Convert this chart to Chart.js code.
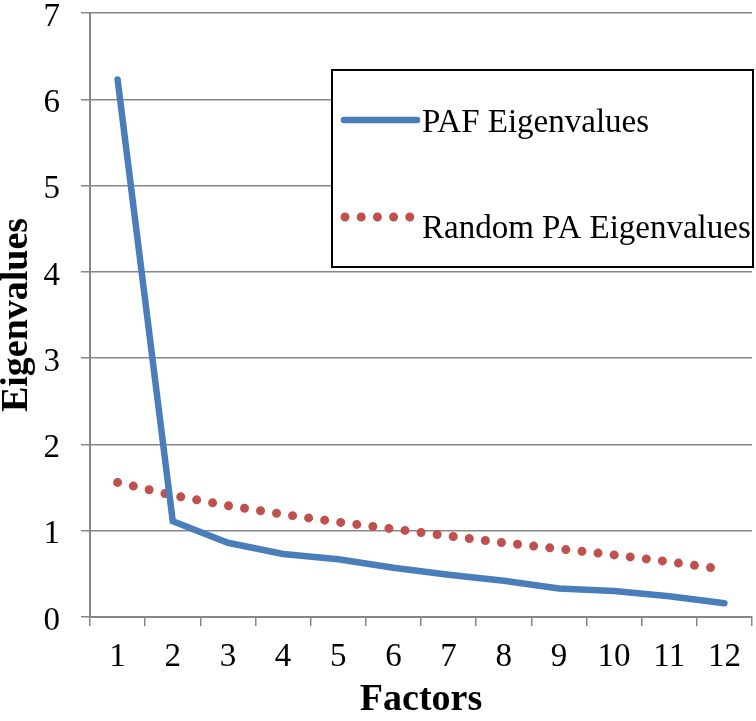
<!DOCTYPE html>
<html>
<head>
<meta charset="utf-8">
<script src="https://cdn.jsdelivr.net/npm/chart.js@4/dist/chart.umd.min.js"></script>
<style>
  html, body { margin: 0; padding: 0; background: #ffffff; }
  #wrap { width: 756px; height: 721px; position: relative; }
</style>
</head>
<body>
<div id="wrap"><canvas id="c" width="756" height="721"></canvas></div>
<script>
const categories = ['1','2','3','4','5','6','7','8','9','10','11','12'];
const pafEigenvalues = [6.23, 1.11, 0.86, 0.73, 0.67, 0.57, 0.49, 0.42, 0.33, 0.30, 0.24, 0.16];
const randomPaEigenvalues = [1.56, 1.41, 1.29, 1.19, 1.10, 1.02, 0.94, 0.86, 0.79, 0.72, 0.64, 0.55];
const seriesNames = ['PAF Eigenvalues', 'Random PA Eigenvalues'];
const yTickValues = [0, 1, 2, 3, 4, 5, 6, 7];
const xTitle = 'Factors';
const yTitle = 'Eigenvalues';

const BLUE = '#4a7ebb';
const RED = '#c0504d';
const GRID = '#878787';
const SERIF = '"Liberation Serif", "Times New Roman", serif';

const legendPlugin = {
  id: 'boxLegend',
  afterDraw(chart) {
    const ctx = chart.ctx;
    const box = { x: 332, y: 70, w: 421, h: 197 };
    ctx.save();
    ctx.fillStyle = '#ffffff';
    ctx.fillRect(box.x, box.y, box.w, box.h);
    ctx.lineWidth = 2;
    ctx.strokeStyle = '#000000';
    ctx.strokeRect(box.x, box.y, box.w, box.h);

    const ds = chart.data.datasets;
    ctx.beginPath();
    ctx.lineCap = 'round';
    ctx.lineWidth = ds[0].borderWidth;
    ctx.strokeStyle = ds[0].borderColor;
    ctx.setLineDash([]);
    ctx.moveTo(box.x + 12, box.y + 50);
    ctx.lineTo(box.x + 85, box.y + 50);
    ctx.stroke();

    ctx.beginPath();
    ctx.lineWidth = ds[1].borderWidth;
    ctx.strokeStyle = ds[1].borderColor;
    ctx.setLineDash(ds[1].borderDash);
    ctx.moveTo(box.x + 13, box.y + 147);
    ctx.lineTo(box.x + 80, box.y + 147);
    ctx.stroke();
    ctx.setLineDash([]);

    ctx.fillStyle = '#000000';
    ctx.font = '33px ' + SERIF;
    ctx.textAlign = 'left';
    ctx.textBaseline = 'alphabetic';
    ctx.fillText(ds[0].label, box.x + 90, box.y + 62);
    ctx.fillText(ds[1].label, box.x + 90, box.y + 168);
    ctx.restore();
  }
};

new Chart(document.getElementById('c'), {
  type: 'line',
  data: {
    labels: categories,
    datasets: [
      {
        label: seriesNames[0],
        data: pafEigenvalues,
        borderColor: BLUE,
        backgroundColor: BLUE,
        borderWidth: 6.5,
        borderCapStyle: 'round',
        borderJoinStyle: 'miter',
        pointRadius: 0,
        tension: 0,
        fill: false
      },
      {
        label: seriesNames[1],
        data: randomPaEigenvalues,
        borderColor: RED,
        backgroundColor: RED,
        borderWidth: 9,
        borderDash: [0, 16.2],
        borderCapStyle: 'round',
        pointRadius: 0,
        tension: 0,
        fill: false
      }
    ]
  },
  options: {
    responsive: false,
    animation: false,
    devicePixelRatio: 1,
    layout: { padding: { top: 13, right: 4, left: 0, bottom: 0 } },
    plugins: {
      legend: { display: false },
      tooltip: { enabled: false }
    },
    scales: {
      x: {
        type: 'category',
        offset: true,
        grid: {
          offset: true,
          drawOnChartArea: false,
          drawTicks: true,
          tickLength: 9,
          color: GRID,
          lineWidth: 1.5
        },
        border: { color: GRID, width: 2 },
        ticks: {
          color: '#000000',
          padding: 12,
          maxRotation: 0,
          autoSkip: false,
          font: { family: SERIF, size: 33 }
        },
        title: {
          display: true,
          text: xTitle,
          color: '#000000',
          font: { family: SERIF, size: 38, weight: 'bold', lineHeight: 1.08 },
          padding: { top: 0, bottom: 0 }
        },
        afterFit(scale) {
          scale.height = 104;
          scale.paddingLeft = 0;
          scale.paddingRight = 0;
        }
      },
      y: {
        min: 0,
        max: 7,
        afterBuildTicks(scale) {
          scale.ticks = yTickValues.map(v => ({ value: v }));
        },
        grid: {
          drawTicks: true,
          tickLength: 9,
          color: GRID,
          lineWidth: 1.5
        },
        border: { color: GRID, width: 2 },
        ticks: {
          color: '#000000',
          padding: 21,
          font: { family: SERIF, size: 33, lineHeight: '8px' },
          callback: (value) => ['', String(value)]
        },
        title: {
          display: true,
          text: yTitle,
          color: '#000000',
          font: { family: SERIF, size: 38, weight: 'bold', lineHeight: 0.9 },
          padding: { top: 0, bottom: 0 }
        },
        afterFit(scale) {
          scale.width = 90;
          scale.paddingTop = 0;
          scale.paddingBottom = 0;
        }
      }
    }
  },
  plugins: [legendPlugin]
});
</script>
</body>
</html>
